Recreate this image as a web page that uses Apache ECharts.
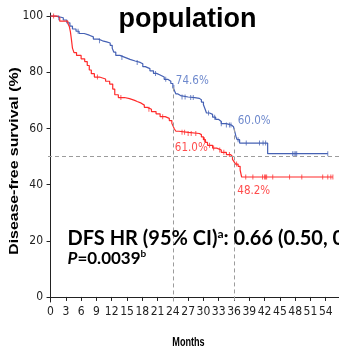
<!DOCTYPE html>
<html>
<head>
<meta charset="utf-8">
<script src="https://cdn.jsdelivr.net/npm/echarts@6/dist/echarts.min.js"></script>
<style>
  html, body { margin: 0; padding: 0; background: #fff; }
  #chart { width: 339px; height: 348px; }
</style>
</head>
<body>
<div id="chart"></div>
<script>
// Kaplan-Meier disease-free survival, two treatment arms
const monthTicks = [0, 3, 6, 9, 12, 15, 18, 21, 24, 27, 30, 33, 36, 39, 42, 45, 48, 51, 54];
const survTicks = [0, 20, 40, 60, 80, 100];

// Blue arm: event times (months) and survival (%) after each step
const blueTimes = [0, 1, 2.5, 3.2, 3.8, 4.3, 5, 5.6, 6.6, 7.6, 8.4, 9.4, 10.2, 11, 11.7, 12.1, 12.4, 12.8, 13.6, 14.6, 15.6, 16.6, 17.6, 18.1, 18.6, 19.5, 20.2, 20.8, 21.5, 22.3, 23, 23.6, 24, 24.3, 24.6, 25, 25.5, 27, 28.3, 29.2, 29.6, 30, 30.3, 30.6, 31.2, 31.8, 32.4, 33, 33.5, 34.5, 35.5, 35.9, 36.2, 36.4, 36.6, 37.1, 42.6];
const blueSurv  = [100, 99.4, 98.6, 97.6, 96.4, 95.4, 94.6, 93.8, 93.2, 92.6, 91.8, 91.2, 90.8, 90.4, 89.6, 88.6, 87.2, 86, 85.3, 84.6, 84, 83.5, 83, 82, 81.3, 80.5, 79.6, 79, 78.3, 77.5, 76.8, 76, 74.6, 73.5, 72.3, 71.7, 71.2, 71, 70.7, 70.2, 69.4, 68.4, 67, 65.5, 65, 64, 63.2, 62.5, 61.7, 61.2, 60.6, 60.0, 58.5, 57, 56, 54.8, 51];
const blueEnd = 54.4;
const blueCensored = [1.6, 5.4, 9.6, 14, 17, 20.6, 22.6, 24.2, 25.8, 26.4, 27.5, 28, 31, 32.2, 33.5, 34.5, 35.1, 35.4, 36.8, 38.4, 41, 41.7, 42.2, 47.5, 47.8, 48.1, 48.3, 54.4];

// Red arm
const redTimes = [0, 1.4, 1.8, 3.4, 3.7, 3.9, 4.1, 4.3, 4.6, 5.1, 6, 6.7, 7.2, 7.6, 8, 8.6, 9.6, 10.8, 11.6, 12.2, 12.6, 13.3, 14.5, 15.5, 16.5, 17, 17.8, 18.4, 19, 19.8, 20.7, 21.5, 22.5, 23.3, 23.8, 24, 24.3, 24.6, 25.2, 27, 29.2, 29.6, 30, 30.4, 30.8, 31.8, 32.6, 33.5, 34.5, 35.3, 35.7, 36, 36.3, 36.8, 37.2, 37.5];
const redSurv  = [100, 99.4, 98.2, 97.4, 96.2, 94.4, 91.6, 88.6, 87, 86, 84.8, 83.8, 82.4, 80.8, 79.5, 78.3, 77.6, 76.8, 75.8, 74, 72, 71, 70.6, 70, 69.6, 69, 68.3, 67.5, 66.8, 66, 65.2, 64.2, 63.6, 62.8, 61.8, 61.0, 59.8, 59, 58.6, 58.2, 57.8, 57, 56, 55, 54, 53, 52.3, 51.5, 50.7, 50, 49, 48.2, 47.3, 46.5, 45.2, 42.7];
const redEnd = 55.4;
const redCensored = [0.6, 9.2, 13.8, 19.3, 22, 25.8, 26.3, 27, 27.6, 28.5, 30.2, 31.2, 32, 33.2, 34, 35.1, 36.5, 38.3, 39.7, 41.6, 42, 42.2, 42.4, 43.6, 46.9, 49.3, 53.4, 54.4, 55, 55.4];

// Landmark estimates at 24 and 36 months
const landmarkMonths = [24, 36];
const blueLandmark = [74.6, 60.0];
const redLandmark = [61.0, 48.2];
const medianLevel = 50;

const BLUE = '#4561b4';
const RED = '#ff2b2b';
const BLUE_TEXT = '#4a6cc0';
const RED_TEXT = '#ff2020';
const NARROW = '"Liberation Sans Narrow", "Arial Narrow", "DejaVu Sans Condensed", sans-serif';
const BOLD_SANS = '"Liberation Sans", Arial, sans-serif';
const NOTE_FONT = 'Lato, "Open Sans", sans-serif';

const X_MIN = -0.5, X_MAX = 56.6;
const Y_MIN = -1.8, Y_MAX = 101.1;

function stepSeries(times, surv, end) {
  const pts = times.map((t, i) => [t, surv[i]]);
  pts.push([end, surv[surv.length - 1]]);
  return pts;
}
function survAt(times, surv, t) {
  let v = surv[0];
  for (let i = 0; i < times.length; i++) { if (times[i] <= t) v = surv[i]; }
  return v;
}
function censorPoints(cens, times, surv) {
  return cens.map(t => [t, survAt(times, surv, t)]);
}

// label placement for landmark values: [distance, vertical offset]
const blueLabelShift = [[3, -6.5], [3.7, -7.2]];
const redLabelShift = [[2, 22], [3.3, 29]];

function landmarkLabels(values, shifts, color) {
  return {
    type: 'scatter',
    symbolSize: 0,
    silent: true,
    z: 5,
    data: landmarkMonths.map((m, i) => ({
      value: [m, values[i]],
      label: { distance: shifts[i][0], offset: [0, shifts[i][1]] }
    })),
    label: {
      show: true,
      position: 'right',
      formatter: p => p.value[1].toFixed(1) + '%',
      color: color,
      fontFamily: NARROW,
      fontSize: 11.5,
      verticalAlign: 'middle',
      align: 'left'
    }
  };
}

const dashStyle = { type: [4, 3], color: '#9c9c9c', width: 1 };

const chart = echarts.init(document.getElementById('chart'), null, { renderer: 'canvas' });
chart.setOption({
  animation: false,
  backgroundColor: '#fff',
  grid: { left: 48, right: 0, top: 13, bottom: 46, containLabel: false },
  xAxis: {
    type: 'value', min: X_MIN, max: X_MAX,
    splitLine: { show: false },
    axisLine: { show: true, lineStyle: { color: '#222', width: 1 } },
    axisTick: { show: true, length: 4, customValues: monthTicks, lineStyle: { color: '#222' } },
    axisLabel: { customValues: monthTicks, fontFamily: NARROW, fontSize: 12, color: '#222', margin: 4 }
  },
  yAxis: {
    type: 'value', min: Y_MIN, max: Y_MAX,
    splitLine: { show: false },
    axisLine: { show: true, lineStyle: { color: '#222', width: 1 } },
    axisTick: { show: true, length: 4, customValues: survTicks, lineStyle: { color: '#222' } },
    axisLabel: { customValues: survTicks, fontFamily: NARROW, fontSize: 12, color: '#222', margin: 5 }
  },
  series: [
    {
      type: 'line', step: 'end', symbol: 'none', z: 3,
      data: stepSeries(blueTimes, blueSurv, blueEnd),
      lineStyle: { color: BLUE, width: 1.2 },
      markLine: {
        silent: true, symbol: ['none', 'none'], label: { show: false },
        lineStyle: dashStyle,
        data: [
          { yAxis: medianLevel },
          [{ coord: [landmarkMonths[0], blueLandmark[0]] }, { coord: [landmarkMonths[0], Y_MIN] }],
          [{ coord: [landmarkMonths[1], blueLandmark[1]] }, { coord: [landmarkMonths[1], Y_MIN] }]
        ]
      }
    },
    {
      type: 'line', step: 'end', symbol: 'none', z: 3,
      data: stepSeries(redTimes, redSurv, redEnd),
      lineStyle: { color: RED, width: 1.2 }
    },
    {
      type: 'scatter', symbol: 'rect', symbolSize: [1, 5], z: 4, silent: true,
      itemStyle: { color: BLUE, opacity: 0.75 },
      data: censorPoints(blueCensored, blueTimes, blueSurv)
    },
    {
      type: 'scatter', symbol: 'rect', symbolSize: [1, 5], z: 4, silent: true,
      itemStyle: { color: RED, opacity: 0.75 },
      data: censorPoints(redCensored, redTimes, redSurv)
    },
    landmarkLabels(blueLandmark, blueLabelShift, BLUE_TEXT),
    landmarkLabels(redLandmark, redLabelShift, RED_TEXT)
  ],
  graphic: [
    {
      type: 'text', x: 187.5, y: 20, z: 10,
      style: { text: 'population', font: 'bold 27px ' + BOLD_SANS, fill: '#000', textAlign: 'center', textVerticalAlign: 'middle' }
    },
    {
      type: 'text', x: 67.5, y: 239, z: 10,
      style: {
        text: '{m|DFS HR (95% CI)}{s|a}{m|: 0.66 (0.50, 0}',
        textAlign: 'left', textVerticalAlign: 'middle',
        rich: {
          m: { font: 'bold 20px ' + NOTE_FONT, fill: '#000', lineHeight: 22 },
          s: { font: 'bold 12px ' + NOTE_FONT, fill: '#000', verticalAlign: 'top', lineHeight: 22 }
        }
      }
    },
    {
      type: 'text', x: 67.5, y: 258.5, z: 10,
      style: {
        text: '{i|P}{m|=0.0039}{s|b}',
        textAlign: 'left', textVerticalAlign: 'middle',
        rich: {
          i: { font: 'italic bold 17px ' + NOTE_FONT, fill: '#000', lineHeight: 19 },
          m: { font: 'bold 17px ' + NOTE_FONT, fill: '#000', lineHeight: 19 },
          s: { font: 'bold 10px ' + NOTE_FONT, fill: '#000', verticalAlign: 'top', lineHeight: 19 }
        }
      }
    },
    {
      type: 'text', x: 188.5, y: 342.5, z: 10, scaleX: 0.7,
      style: { text: 'Months', font: 'bold 13px ' + BOLD_SANS, fill: '#000', textAlign: 'center', textVerticalAlign: 'middle' }
    },
    {
      type: 'text', x: 14.5, y: 161, z: 10, rotation: Math.PI / 2, scaleX: 1.32,
      style: { text: 'Disease-free survival (%)', font: 'bold 12px ' + BOLD_SANS, fill: '#000', textAlign: 'center', textVerticalAlign: 'middle' }
    }
  ]
});
</script>
</body>
</html>
